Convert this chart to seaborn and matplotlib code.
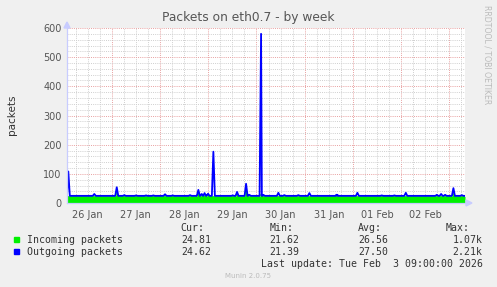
import matplotlib
matplotlib.use("Agg")
import matplotlib.pyplot as plt
import matplotlib.dates as mdates
from matplotlib.ticker import MultipleLocator, NullFormatter, FuncFormatter
from matplotlib.patches import Rectangle
import numpy as np
import pandas as pd
import seaborn as sns

# ---------------- data ----------------
YEAR = "2026-"
range_start = "01-26 01:45"
range_end = "02-03 07:45"

base_in = 22.5
base_out = 24.5

out_spike_times = ["01-26 02:24", "01-26 15:20", "01-27 02:30", "01-27 06:16", "01-27 12:06",
                   "01-27 17:04", "01-27 20:43", "01-28 02:31", "01-28 06:21", "01-28 14:58",
                   "01-28 19:06", "01-28 20:47", "01-28 22:11", "01-28 23:55", "01-29 02:34",
                   "01-29 12:13", "01-29 14:21", "01-29 18:50", "01-29 20:28", "01-30 02:18",
                   "01-30 03:26", "01-30 10:54", "01-30 13:53", "01-30 20:51", "01-31 02:20",
                   "01-31 15:40", "01-31 16:20", "02-01 02:13", "02-01 14:21", "02-01 20:38",
                   "02-02 02:18", "02-02 17:44", "02-02 19:52", "02-02 21:52", "02-03 01:59",
                   "02-03 06:10"]
out_spike_vals = [108, 31, 54, 27, 26,
                  26, 26, 30, 26, 27,
                  45, 31, 34, 32, 176,
                  26, 38, 66, 28, 580,
                  28, 35, 27, 27, 34,
                  28, 28, 35, 26, 26,
                  35, 28, 31, 28, 51,
                  27]

in_spike_times = ["01-27 02:30", "01-28 19:06", "01-28 20:47", "01-28 22:11", "01-28 23:55",
                  "01-29 14:21", "01-29 18:50", "01-30 02:18", "02-03 01:59"]
in_spike_vals = [33, 42, 28, 30, 30, 30, 45, 30, 32]

day_labels = ["26 Jan", "27 Jan", "28 Jan", "29 Jan", "30 Jan", "31 Jan", "01 Feb", "02 Feb"]

legend_names = ["Incoming packets", "Outgoing packets"]
legend_colors = ["#00F000", "#0000FF"]
cur_vals = ["24.81", "24.62"]
min_vals = ["21.62", "21.39"]
avg_vals = ["26.56", "27.50"]
max_vals = ["1.07k", "2.21k"]
last_update = "Last update: Tue Feb  3 09:00:00 2026"
title = "Packets on eth0.7 - by week"
ylabel = "packets"


def ts(s):
    return pd.Timestamp(YEAR + s)


def build(times, vals, base):
    half = pd.Timedelta(minutes=45)
    t = [ts(range_start)]
    v = [base]
    for s, p in zip(times, vals):
        c = ts(s)
        t += [c - half, c, c + half]
        v += [base, p, base]
    t.append(ts(range_end))
    v.append(base)
    return pd.DataFrame({"time": t, "value": v})


df_in = build(in_spike_times, in_spike_vals, base_in)
df_out = build(out_spike_times, out_spike_vals, base_out)

# ---------------- figure ----------------
W, H = 497, 287
fig = plt.figure(figsize=(W / 100, H / 100), dpi=100, facecolor="#F0F0F0")
L, R, T, B = 67, 465, 28, 203
ax = fig.add_axes([L / W, 1 - B / H, (R - L) / W, (B - T) / H])
ax.set_facecolor("white")


def fx(px):
    return px / W


def fy(py):
    return 1 - py / H


# green area
ax.fill_between(df_in["time"], 0, df_in["value"], color=legend_colors[0], lw=0, zorder=3)
sns.lineplot(data=df_in, x="time", y="value", ax=ax, color=legend_colors[0], lw=0.6, zorder=3)
sns.lineplot(data=df_out, x="time", y="value", ax=ax, color=legend_colors[1], lw=1.3, zorder=4)

ax.set_xlim(ts(range_start), ts(range_end))
ax.set_ylim(0, 600)

# grids
ax.xaxis.set_major_locator(mdates.DayLocator())
ax.xaxis.set_major_formatter(NullFormatter())
ax.xaxis.set_minor_locator(mdates.HourLocator(byhour=[6, 12, 18]))
lab_map = {ts(f"{m}-{d} 12:00").date(): lab for lab, (m, d) in zip(
    day_labels, [("01", "26"), ("01", "27"), ("01", "28"), ("01", "29"), ("01", "30"),
                 ("01", "31"), ("02", "01"), ("02", "02")])}


def xfmt(x, pos):
    d = mdates.num2date(x)
    if d.hour == 12:
        return lab_map.get(d.date(), "")
    return ""


ax.xaxis.set_minor_formatter(FuncFormatter(xfmt))
ax.yaxis.set_major_locator(MultipleLocator(100))
ax.yaxis.set_minor_locator(MultipleLocator(20))

dot = (0, (1, 1.2))
ax.grid(which="minor", color="#CFCFCF", linestyle=dot, lw=0.7, zorder=1)
ax.grid(which="major", color="#E8A0A0", linestyle=dot, lw=0.7, zorder=2)
ax.set_axisbelow(True)

ax.tick_params(which="both", length=0, colors="#555555", labelsize=7, pad=4)
ax.tick_params(axis="x", which="minor", pad=5)

for s in ["top", "right"]:
    ax.spines[s].set_visible(False)
for s in ["left", "bottom"]:
    ax.spines[s].set_color("#C8CCFF")
    ax.spines[s].set_linewidth(0.9)
    ax.spines[s].set_zorder(5)

# axis arrows
fig.patches.append(plt.Polygon([[fx(L - 3), fy(T)], [fx(L + 3), fy(T)], [fx(L), fy(22)]],
                               closed=True, transform=fig.transFigure, color="#C8CCFF", zorder=6))
fig.patches.append(plt.Polygon([[fx(R + 1), fy(B - 3)], [fx(R + 1), fy(B + 3)], [fx(R + 7), fy(B)]],
                               closed=True, transform=fig.transFigure, color="#C8CCFF", zorder=6))

ax.set_xlabel("")
ax.set_ylabel("")

# texts
fig.text(fx(248), fy(18), title, ha="center", va="center", fontsize=8.8, color="#555555",
         family="DejaVu Sans")
fig.text(fx(12), fy(115), ylabel, ha="center", va="center", rotation=90, fontsize=7.5,
         color="#333333", family="DejaVu Sans")
fig.text(fx(487), fy(5), "RRDTOOL / TOBI OETIKER", ha="center", va="top", rotation=270,
         fontsize=5.6, color="#BBBBBB", family="DejaVu Sans")

mono = dict(family="DejaVu Sans Mono", fontsize=7.1, color="#333333", va="center")
fig.text(fx(180.7), fy(228.3), "Cur:", ha="left", **mono)
fig.text(fx(269.3), fy(228.3), "Min:", ha="left", **mono)
fig.text(fx(358.3), fy(228.3), "Avg:", ha="left", **mono)
fig.text(fx(470), fy(228.3), "Max:", ha="right", **mono)
for i, yy in enumerate([239.7, 251.7]):
    fig.patches.append(Rectangle((fx(14), fy(yy + 2.5)), 5 / W, 5 / H, transform=fig.transFigure,
                                 color=legend_colors[i], zorder=5))
    fig.text(fx(26.7), fy(yy), legend_names[i], ha="left", **mono)
    fig.text(fx(181), fy(yy), cur_vals[i], ha="left", **mono)
    fig.text(fx(269.3), fy(yy), min_vals[i], ha="left", **mono)
    fig.text(fx(358.3), fy(yy), avg_vals[i], ha="left", **mono)
    fig.text(fx(482.7), fy(yy), max_vals[i], ha="right", **mono)
fig.text(fx(482.7), fy(263.7), last_update, ha="right", **mono)
fig.text(fx(247.7), fy(276), "Munin 2.0.75", ha="center", va="center", fontsize=5,
         color="#BBBBBB", family="DejaVu Sans")

fig.savefig("out.png", dpi=100, facecolor=fig.get_facecolor())
